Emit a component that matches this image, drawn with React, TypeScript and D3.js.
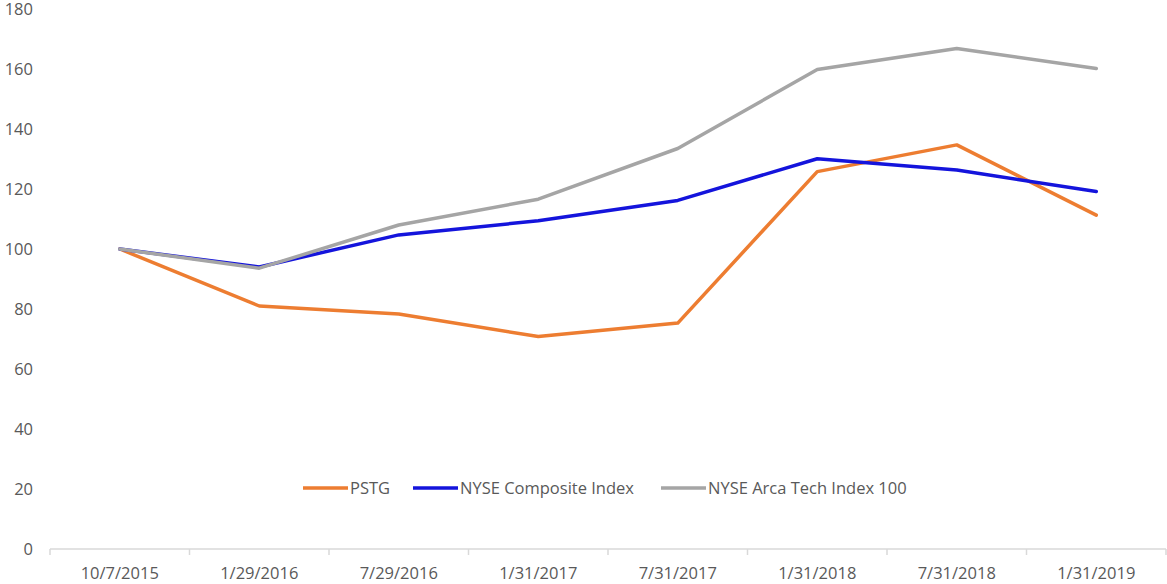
import { useEffect, useRef } from "react"
import * as d3 from "d3"

const categories = [
  "10/7/2015",
  "1/29/2016",
  "7/29/2016",
  "1/31/2017",
  "7/31/2017",
  "1/31/2018",
  "7/31/2018",
  "1/31/2019",
]

const pstg = [100, 81, 78.3, 70.8, 75.3, 125.8, 134.7, 111.3]
const nyseComposite = [100, 94, 104.7, 109.4, 116.2, 130.1, 126.3, 119.2]
const arcaTech = [100, 93.6, 108, 116.6, 133.5, 159.8, 166.8, 160.2]

const yTicks = [0, 20, 40, 60, 80, 100, 120, 140, 160, 180]

const series = [
  { name: "PSTG", values: pstg, color: "#ED7D31" },
  { name: "NYSE Composite Index", values: nyseComposite, color: "#1414DC" },
  { name: "NYSE Arca Tech Index 100", values: arcaTech, color: "#A5A5A5" },
]

const WIDTH = 1167
const HEIGHT = 584
const FONT = "'Open Sans', 'Liberation Sans', sans-serif"
const FONT_SIZE = "16.5px"
const TEXT_COLOR = "#595959"

export default function App() {
  const svgRef = useRef<SVGSVGElement>(null)

  useEffect(() => {
    if (!svgRef.current) return
    const svg = d3.select(svgRef.current)
    svg.selectAll("*").remove()

    const xScale = d3.scaleBand().domain(categories).range([50, 1166])
    const yScale = d3.scaleLinear().domain([0, 180]).range([549, 9])

    // y labels (no axis line)
    svg
      .append("g")
      .selectAll("text")
      .data(yTicks)
      .enter()
      .append("text")
      .attr("x", 33)
      .attr("y", (d) => yScale(d))
      .attr("dy", "0.35em")
      .attr("text-anchor", "end")
      .style("font-family", FONT)
      .style("font-size", FONT_SIZE)
      .style("fill", TEXT_COLOR)
      .text((d) => d)

    // x axis line + boundary ticks
    const axis = svg.append("g")
    axis
      .append("line")
      .attr("x1", 50)
      .attr("x2", 1166)
      .attr("y1", yScale(0))
      .attr("y2", yScale(0))
      .attr("stroke", "#d9d9d9")
      .attr("stroke-width", 1.5)

    const boundaries = categories.map((c) => xScale(c) || 0).concat([xScale.range()[1]])
    axis
      .selectAll(".tick")
      .data(boundaries)
      .enter()
      .append("line")
      .attr("class", "tick")
      .attr("x1", (d) => d)
      .attr("x2", (d) => d)
      .attr("y1", yScale(0))
      .attr("y2", yScale(0) + 6)
      .attr("stroke", "#d9d9d9")
      .attr("stroke-width", 1.5)

    axis
      .selectAll(".xlabel")
      .data(categories)
      .enter()
      .append("text")
      .attr("class", "xlabel")
      .attr("x", (d) => (xScale(d) || 0) + xScale.bandwidth() / 2)
      .attr("y", 579)
      .attr("text-anchor", "middle")
      .style("font-family", FONT)
      .style("font-size", FONT_SIZE)
      .style("fill", TEXT_COLOR)
      .text((d) => d)

    const line = d3
      .line<number>()
      .x((_, i) => (xScale(categories[i]) || 0) + xScale.bandwidth() / 2)
      .y((d) => yScale(d))

    series.forEach((s) => {
      svg
        .append("path")
        .datum(s.values)
        .attr("fill", "none")
        .attr("stroke", s.color)
        .attr("stroke-width", 3.5)
        .attr("stroke-linejoin", "round")
        .attr("stroke-linecap", "round")
        .attr("d", line)
    })

    // legend
    const legendX = [303, 413, 661]
    const legend = svg.append("g")
    series.forEach((s, i) => {
      const row = legend.append("g").attr("transform", `translate(${legendX[i]}, 488)`)
      row
        .append("line")
        .attr("x1", 0)
        .attr("x2", 45)
        .attr("stroke", s.color)
        .attr("stroke-width", 3.5)
      row
        .append("text")
        .attr("x", 47)
        .attr("dy", "0.35em")
        .style("font-family", FONT)
        .style("font-size", FONT_SIZE)
        .style("fill", TEXT_COLOR)
        .text(s.name)
    })
  }, [])

  return (
    <svg
      ref={svgRef}
      width={WIDTH}
      height={HEIGHT}
      style={{ position: "absolute", left: 0, top: 0, background: "#fff" }}
    />
  )
}
